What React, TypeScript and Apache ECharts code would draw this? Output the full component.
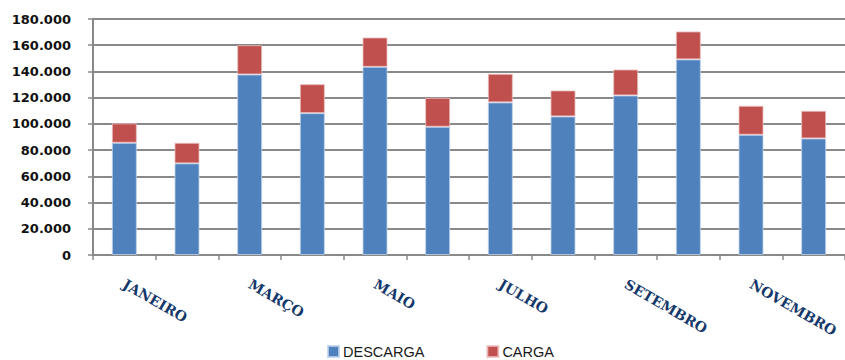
import React, { useEffect, useRef } from "react";
import * as echarts from "echarts";

const months = [
  "JANEIRO", "FEVEREIRO", "MARÇO", "ABRIL", "MAIO", "JUNHO",
  "JULHO", "AGOSTO", "SETEMBRO", "OUTUBRO", "NOVEMBRO", "DEZEMBRO",
];
const descarga = [85600, 69900, 137700, 108200, 143500, 97800, 116400, 105700, 121700, 149200, 91700, 88900];
const carga = [14800, 15700, 22300, 22100, 22400, 22100, 21800, 19800, 19800, 21300, 22100, 21100];
const seriesNames = ["DESCARGA", "CARGA"];

const fmt = (v: number) =>
  String(Math.round(v)).replace(/\B(?=(\d{3})+(?!\d))/g, ".");

export default function App() {
  const ref = useRef<HTMLDivElement>(null);
  useEffect(() => {
    document.body.style.margin = "0";
    const chart = echarts.init(ref.current!, null, { renderer: "svg" });
    const gridColor = "#898989";
    chart.setOption({
      animation: false,
      backgroundColor: "#ffffff",
      grid: { left: 93, right: -11, top: 19, bottom: 105, containLabel: false },
      legend: {
        left: 327,
        top: 344,
        padding: 0,
        itemWidth: 11,
        itemHeight: 11,
        itemGap: 62,
        icon: "rect",
        textStyle: {
          fontFamily: "Liberation Sans",
          fontSize: 14.5,
          lineHeight: 15,
          color: "#1a1a1a",
          padding: [0, 0, 0, -1],
        },
        data: seriesNames,
      },
      xAxis: {
        type: "category",
        data: months,
        axisLine: { lineStyle: { color: gridColor, width: 2 } },
        axisTick: { show: true, interval: 0, length: 5, lineStyle: { color: gridColor, width: 1.5 } },
        axisLabel: {
          interval: 1,
          rotate: -30,
          margin: 28,
          fontFamily: "DejaVu Serif",
          fontWeight: "bold",
          fontSize: 14,
          color: "#14386a",
        },
      },
      yAxis: {
        type: "value",
        min: 0,
        max: 180000,
        interval: 20000,
        axisLine: { show: true, lineStyle: { color: gridColor, width: 2 } },
        axisTick: { show: true, length: 5, lineStyle: { color: gridColor, width: 1.5 } },
        splitLine: { lineStyle: { color: gridColor, width: 2 } },
        axisLabel: {
          margin: 22,
          fontFamily: "DejaVu Sans",
          fontWeight: "bold",
          fontSize: 13,
          color: "#111111",
          formatter: (v: number) => fmt(v),
        },
      },
      series: [
        {
          name: seriesNames[0],
          type: "bar",
          stack: "total",
          data: descarga,
          barWidth: 25,
          itemStyle: { color: "#4F81BD", borderColor: "rgba(190,210,235,0.8)", borderWidth: 1 },
        },
        {
          name: seriesNames[1],
          type: "bar",
          stack: "total",
          data: carga,
          barWidth: 25,
          itemStyle: { color: "#C0504D", borderColor: "rgba(235,190,190,0.8)", borderWidth: 1 },
        },
      ],
    });
    return () => chart.dispose();
  }, []);
  return <div ref={ref} style={{ width: 845, height: 360 }} />;
}
